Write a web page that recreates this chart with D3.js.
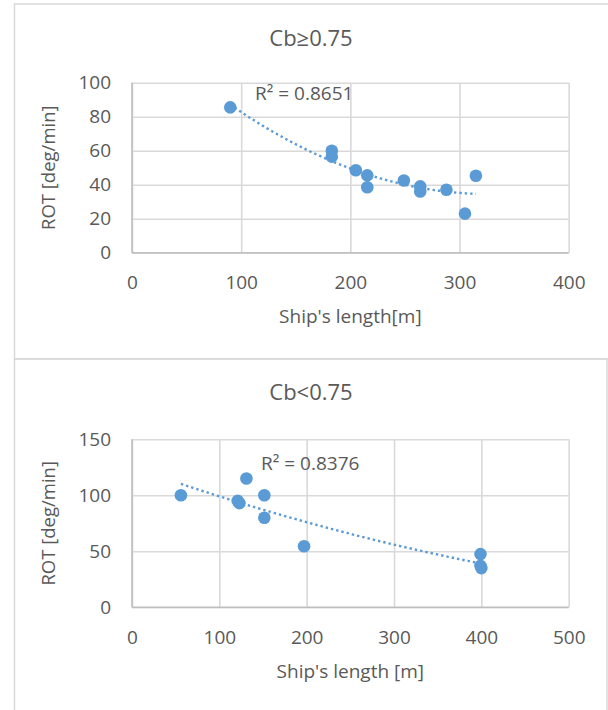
<!DOCTYPE html>
<html><head><meta charset="utf-8">
<script src="https://cdn.jsdelivr.net/npm/d3@7"></script>
<style>
html,body{margin:0;padding:0;background:#fff;}
svg{display:block;}
text{font-family:"Open Sans",sans-serif;fill:#595959;}
</style></head>
<body>
<svg id="chart" width="608" height="710"></svg>
<script>
// ---- data ----
const titleTop = "Cb≥0.75";
const titleBottom = "Cb<0.75";
const xTitleTop = "Ship's length[m]";
const xTitleBottom = "Ship's length [m]";
const yTitle = "ROT [deg/min]";
const r2Top = "R² = 0.8651";
const r2Bottom = "R² = 0.8376";

const topLength = [90, 183, 183, 205, 215.5, 215.5, 249, 264, 264, 288, 305, 315];
const topROT    = [85.5, 60, 56.5, 48.5, 45.5, 38.5, 42.5, 39, 36, 37, 23, 45.3];
const topXTicks = [0, 100, 200, 300, 400];
const topYTicks = [0, 20, 40, 60, 80, 100];

const botLength = [56, 131, 121, 123, 151.5, 151.5, 197, 399, 399, 400];
const botROT    = [100, 115, 95, 93, 100, 80, 54.5, 47.5, 37, 35];
const botXTicks = [0, 100, 200, 300, 400, 500];
const botYTicks = [0, 50, 100, 150];

// ---- polynomial (order 2) trendline, least squares ----
function solve(A, b){
  const n=b.length; const M=A.map((r,i)=>r.concat([b[i]]));
  for(let i=0;i<n;i++){let p=i;for(let k=i+1;k<n;k++)if(Math.abs(M[k][i])>Math.abs(M[p][i]))p=k;[M[i],M[p]]=[M[p],M[i]];
    for(let k=i+1;k<n;k++){const f=M[k][i]/M[i][i];for(let j=i;j<=n;j++)M[k][j]-=f*M[i][j];}}
  const x=new Array(n).fill(0);
  for(let i=n-1;i>=0;i--){let s=M[i][n];for(let j=i+1;j<n;j++)s-=M[i][j]*x[j];x[i]=s/M[i][i];}
  return x;
}
function polyFit(xs, ys, deg){
  const n=deg+1; const A=[...Array(n)].map(()=>new Array(n).fill(0)); const b=new Array(n).fill(0);
  xs.forEach((x,i)=>{for(let r=0;r<n;r++){b[r]+=ys[i]*x**r;for(let c=0;c<n;c++)A[r][c]+=x**(r+c);}});
  const c=solve(A,b); return x=>c.reduce((s,ci,k)=>s+ci*x**k,0);
}

const svg = d3.select("#chart");
// frames
svg.append("rect").attr("x",14.5).attr("y",4).attr("width",620).attr("height",355)
  .attr("fill","none").attr("stroke","#d9d9d9").attr("stroke-width",1.5);
svg.append("rect").attr("x",14.5).attr("y",359).attr("width",592.5).attr("height",400)
  .attr("fill","none").attr("stroke","#d9d9d9").attr("stroke-width",1.5);

function drawPanel(cfg){
  const g = svg.append("g");
  const x = d3.scaleLinear().domain([cfg.xTicks[0], cfg.xTicks[cfg.xTicks.length-1]]).range([cfg.left, cfg.right]);
  const y = d3.scaleLinear().domain([cfg.yTicks[0], cfg.yTicks[cfg.yTicks.length-1]]).range([cfg.bottom, cfg.top]);
  const W = cfg.right-cfg.left, H = cfg.bottom-cfg.top;

  const gx = g.append("g").attr("transform",`translate(0,${cfg.bottom})`)
    .call(d3.axisBottom(x).tickValues(cfg.xTicks).tickSize(-H).tickPadding(23).tickFormat(d3.format("d")));
  const gy = g.append("g").attr("transform",`translate(${cfg.left},0)`)
    .call(d3.axisLeft(y).tickValues(cfg.yTicks).tickSize(-W).tickPadding(21).tickFormat(d3.format("d")));
  [gx,gy].forEach(a=>{
    a.select(".domain").remove();
    a.selectAll(".tick line").attr("stroke","#d9d9d9").attr("stroke-width",1.6);
    a.selectAll(".tick text").style("font-size","19px").attr("fill","#595959");
  });
  // axis lines
  g.append("line").attr("x1",cfg.left).attr("x2",cfg.left).attr("y1",cfg.top).attr("y2",cfg.bottom).attr("stroke","#bfbfbf").attr("stroke-width",1.6);
  g.append("line").attr("x1",cfg.left).attr("x2",cfg.right).attr("y1",cfg.bottom).attr("y2",cfg.bottom).attr("stroke","#bfbfbf").attr("stroke-width",1.6);

  // trend
  const f = polyFit(cfg.xs, cfg.ys, 2);
  const [x0,x1] = d3.extent(cfg.xs);
  const tx = d3.range(0,101).map(i=>x0+(x1-x0)*i/100);
  g.append("path").datum(tx)
    .attr("d", d3.line().x(d=>x(d)).y(d=>y(f(d))))
    .attr("fill","none").attr("stroke","#5b9bd5").attr("stroke-width",2.4)
    .attr("stroke-dasharray","2.4,3");

  g.selectAll("circle.pt").data(cfg.xs.map((v,i)=>[v,cfg.ys[i]])).enter().append("circle")
    .attr("cx",d=>x(d[0])).attr("cy",d=>y(d[1])).attr("r",6.3).attr("fill","#5b9bd5");

  g.append("text").attr("x",cfg.r2x).attr("y",cfg.r2y).attr("dominant-baseline","middle")
    .style("font-size","19px").text(cfg.r2);

  g.append("text").attr("x",311).attr("y",cfg.titleY).attr("text-anchor","middle").attr("dominant-baseline","middle")
    .style("font-size","22px").text(cfg.title);
  g.append("text").attr("x",(cfg.left+cfg.right)/2).attr("y",cfg.xTitleY).attr("text-anchor","middle").attr("dominant-baseline","middle")
    .style("font-size","19px").text(cfg.xTitle);
  g.append("text").attr("transform",`translate(50,${(cfg.top+cfg.bottom)/2}) rotate(-90)`).attr("text-anchor","middle").attr("dominant-baseline","middle")
    .style("font-size","18.5px").text(yTitle);
}

drawPanel({left:132,right:568.7,top:82.7,bottom:252.7,xTicks:topXTicks,yTicks:topYTicks,xs:topLength,ys:topROT,
  r2:r2Top,r2x:255,r2y:95,title:titleTop,titleY:40,xTitle:xTitleTop,xTitleY:318,});
drawPanel({left:132,right:568.7,top:439.3,bottom:607.3,xTicks:botXTicks,yTicks:botYTicks,xs:botLength,ys:botROT,
  r2:r2Bottom,r2x:261,r2y:465,title:titleBottom,titleY:394,xTitle:xTitleBottom,xTitleY:673});
</script>
</body></html>
